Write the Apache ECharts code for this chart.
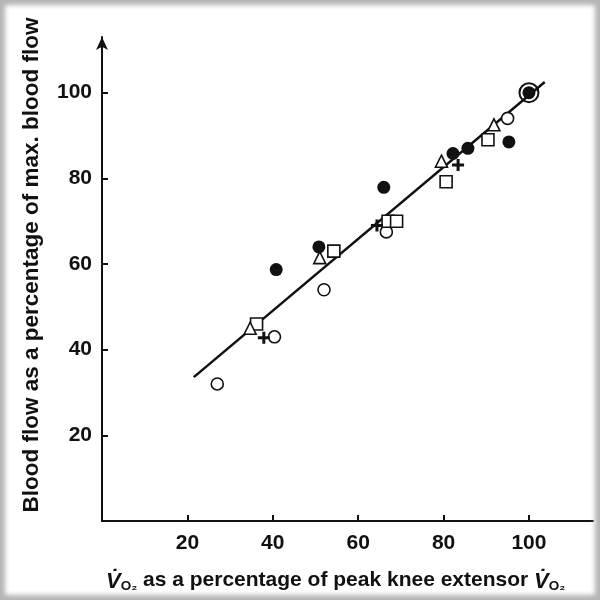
<!DOCTYPE html>
<html>
<head>
<meta charset="utf-8">
<script src="https://cdn.jsdelivr.net/npm/echarts@6/dist/echarts.min.js"></script>
<style>
  html, body { margin: 0; padding: 0; background: #fff; }
  #wrap { position: relative; width: 600px; height: 600px; }
  #chart { position: absolute; left: 0; top: 0; width: 600px; height: 600px; }
  #frame { position: absolute; left: 0; top: 0; width: 600px; height: 600px;
           pointer-events: none; box-shadow: inset 0 0 5px 5px #b4b4b4; }
</style>
</head>
<body>
<div id="wrap">
  <div id="chart"></div>
  <div id="frame"></div>
</div>
<script>
// Blood flow vs. oxygen uptake, both as % of peak (knee extensor exercise)
const xTicks = [20, 40, 60, 80, 100];
const yTicks = [20, 40, 60, 80, 100];

const openCircleX = [27, 40.4, 52, 66.6, 95];
const openCircleY = [32, 43, 54, 67.5, 94];

const filledCircleX = [40.8, 50.8, 66, 82.2, 85.7, 95.3, 100];
const filledCircleY = [58.7, 64, 77.9, 85.8, 87, 88.5, 100];

const squareX = [36.2, 54.3, 67, 69, 80.6, 90.4];
const squareY = [46, 63, 70, 70, 79.2, 89];

const triangleX = [34.7, 51, 79.5, 91.8];
const triangleY = [45, 61.5, 84, 92.5];

const plusX = [37.9, 64.4, 83.4];
const plusY = [42.8, 69, 83.1];

const peakX = [100];
const peakY = [100];

const fitLineX = [21.5, 103.7];
const fitLineY = [33.6, 102.5];

const zip = (xs, ys) => xs.map((x, i) => [x, ys[i]]);

const FONT = 'Liberation Sans';
const INK = '#111';
const PLUS = 'path://M4.5,0h3v4.5h4.5v3h-4.5v4.5h-3v-4.5h-4.5v-3h4.5z';

const openStyle = { color: '#fff', borderColor: INK, borderWidth: 1.6, opacity: 1 };

const chart = echarts.init(document.getElementById('chart'));
chart.setOption({
  animation: false,
  grid: { left: 102, right: 7, top: 37, bottom: 79 },
  xAxis: {
    type: 'value', min: 0, max: 115, interval: 20,
    name: '{v|V\u0307}{o|O\u2082} as a percentage of peak knee extensor {v|V\u0307}{o|O\u2082}',
    nameLocation: 'start', nameGap: -4,
    nameTextStyle: {
      align: 'left', verticalAlign: 'top', padding: [46, 0, 0, 0],
      fontFamily: FONT, fontSize: 21, fontWeight: 'bold', color: INK,
      rich: {
        v: { fontFamily: FONT, fontSize: 22, fontStyle: 'italic', fontWeight: 'bold', color: INK, lineHeight: 26, verticalAlign: 'bottom' },
        o: { fontFamily: FONT, fontSize: 13.5, fontWeight: 'bold', color: INK, lineHeight: 13, verticalAlign: 'bottom' }
      }
    },
    axisLine: { lineStyle: { color: INK, width: 2 } },
    axisTick: { inside: true, length: 6, customValues: xTicks, lineStyle: { color: INK, width: 2 } },
    axisLabel: {
      margin: 12, fontFamily: FONT, fontSize: 21, fontWeight: 'bold', color: INK,
      customValues: xTicks
    },
    splitLine: { show: false }
  },
  yAxis: {
    type: 'value', min: 0, max: 113, interval: 20,
    name: 'Blood flow as a percentage of max. blood flow',
    nameLocation: 'middle', nameGap: 59,
    nameTextStyle: { fontFamily: FONT, fontSize: 22.5, fontWeight: 'bold', color: INK, padding: [0, 0, 0, 28] },
    axisLine: { symbol: ['none', 'arrow'], symbolSize: [9, 13], lineStyle: { color: INK, width: 2 } },
    axisTick: { inside: true, length: 6, customValues: yTicks, lineStyle: { color: INK, width: 2 } },
    axisLabel: {
      margin: 10, fontFamily: FONT, fontSize: 21, fontWeight: 'bold', color: INK,
      customValues: yTicks
    },
    splitLine: { show: false }
  },
  series: [
    {
      type: 'line', data: zip(fitLineX, fitLineY), symbol: 'none',
      lineStyle: { color: INK, width: 2.5 }, z: 1
    },
    {
      type: 'scatter', data: zip(peakX, peakY), symbol: 'circle', symbolSize: 19,
      itemStyle: { color: 'transparent', borderColor: INK, borderWidth: 2, opacity: 1 }, z: 3
    },
    {
      type: 'scatter', data: zip(openCircleX, openCircleY), symbol: 'circle', symbolSize: 12,
      itemStyle: openStyle, z: 3
    },
    {
      type: 'scatter', data: zip(squareX, squareY), symbol: 'rect', symbolSize: 12,
      itemStyle: openStyle, z: 3
    },
    {
      type: 'scatter', data: zip(triangleX, triangleY), symbol: 'triangle', symbolSize: 12,
      itemStyle: openStyle, z: 3
    },
    {
      type: 'scatter', data: zip(filledCircleX, filledCircleY), symbol: 'circle', symbolSize: 13,
      itemStyle: { color: INK, opacity: 1 }, z: 4
    },
    {
      type: 'scatter', data: zip(plusX, plusY), symbol: PLUS, symbolSize: 12,
      itemStyle: { color: INK, opacity: 1 }, z: 4
    }
  ]
});
</script>
</body>
</html>
